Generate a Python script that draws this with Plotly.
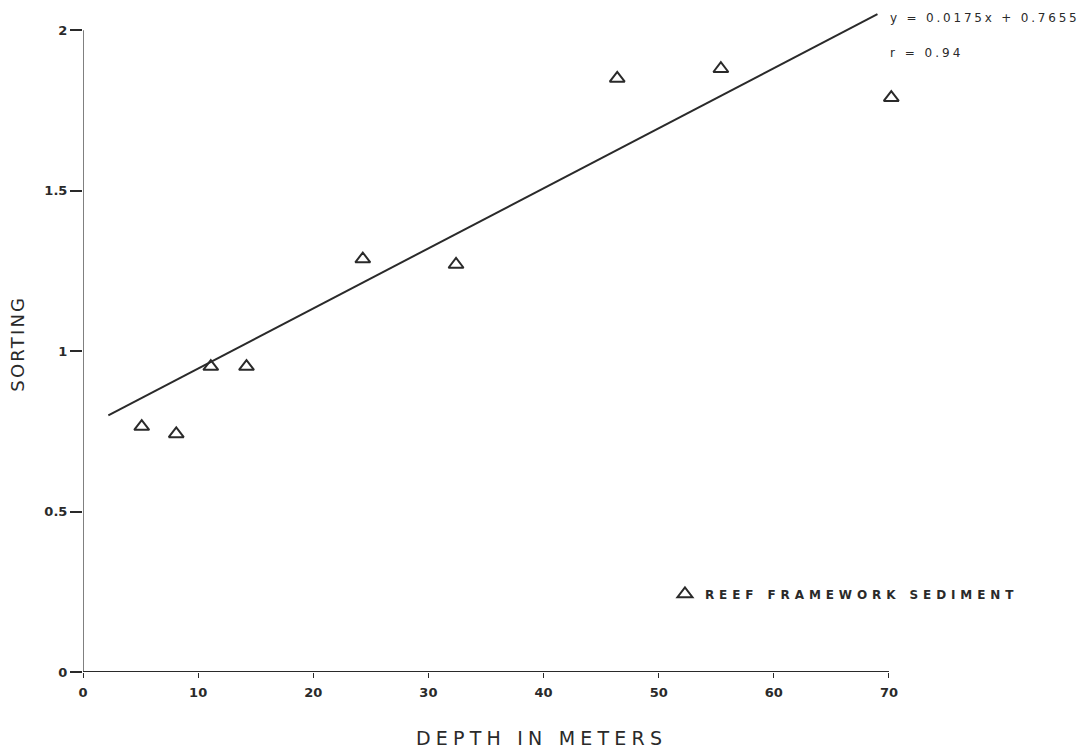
import plotly.graph_objects as go

# Data
depth = [5.1, 8.1, 11.1, 14.2, 24.3, 32.4, 46.4, 55.4, 70.2]
sorting = [0.765, 0.742, 0.952, 0.952, 1.287, 1.270, 1.850, 1.880, 1.790]

fit_x = [2.2, 69.0]
fit_y = [0.80, 2.05]

x_ticks = [0, 10, 20, 30, 40, 50, 60, 70]
y_ticks = [0, 0.5, 1, 1.5, 2]
y_tick_text = ["0", "0.5", "1", "1.5", "2"]

eq_text = "y = 0.0175x + 0.7655"
r_text = "r = 0.94"
series_name = "REEF FRAMEWORK SEDIMENT"
x_title = "DEPTH IN METERS"
y_title = "SORTING"

ink = "#2a2a2a"
font_family = "DejaVu Sans, Verdana, sans-serif"


def spaced(text, px, bold=False):
    weight = "font-weight:bold;" if bold else ""
    return f'<span style="letter-spacing:{px}px;{weight}">{text}</span>'


fig = go.Figure()
fig.add_trace(go.Scatter(
    x=fit_x, y=fit_y, mode="lines",
    line=dict(color=ink, width=2), showlegend=False, hoverinfo="skip"))
fig.add_trace(go.Scatter(
    x=depth, y=sorting, mode="markers", name=spaced(series_name, 4.9, bold=True),
    marker=dict(symbol="triangle-up-open", size=13, color=ink,
                line=dict(width=2, color=ink)),
    cliponaxis=False))

# axis lines only across the labelled span
fig.add_shape(type="line", xref="x", yref="y", x0=0, x1=0, y0=0, y1=y_ticks[-1],
              line=dict(color=ink, width=1.2, dash="solid"))
fig.add_shape(type="line", xref="x", yref="y", x0=0, x1=x_ticks[-1], y0=0, y1=0,
              line=dict(color=ink, width=2))

fig.add_annotation(x=0.971, y=0.989, xref="paper", yref="paper", text=spaced(eq_text, 2.8),
                   showarrow=False, xanchor="left", yanchor="middle",
                   font=dict(size=12, color=ink, family=font_family))
fig.add_annotation(x=0.971, y=0.936, xref="paper", yref="paper", text=spaced(r_text, 3),
                   showarrow=False, xanchor="left", yanchor="middle",
                   font=dict(size=12, color=ink, family=font_family))

# axis titles
fig.add_annotation(x=0.5535, y=-0.0999, xref="paper", yref="paper",
                   text=spaced(x_title, 5.2), showarrow=False,
                   xanchor="center", yanchor="middle",
                   font=dict(size=19, color=ink, family=font_family))
fig.add_annotation(x=-0.079, y=0.496, xref="paper", yref="paper",
                   text=spaced(y_title, 2.2), showarrow=False, textangle=-90,
                   xanchor="center", yanchor="middle",
                   font=dict(size=18, color=ink, family=font_family))

fig.update_layout(
    width=1085, height=750,
    margin=dict(l=83, r=173, t=11, b=78),
    paper_bgcolor="white", plot_bgcolor="white",
    font=dict(family=font_family, color=ink),
    showlegend=True,
    legend=dict(x=0.702, y=0.118, xanchor="left", yanchor="middle",
                bgcolor="rgba(0,0,0,0)", borderwidth=0,
                font=dict(size=12, color=ink, family=font_family)),
    xaxis=dict(range=[0, 72], tickvals=x_ticks, ticks="outside", ticklen=5,
               tickwidth=1, tickcolor=ink, showgrid=False, zeroline=False,
               showline=False, automargin=False, ticklabelstandoff=3,
               tickfont=dict(size=13, color=ink, weight="bold")),
    yaxis=dict(range=[0, 2.06], tickvals=y_ticks, ticktext=y_tick_text,
               ticks="outside", ticklen=12, tickwidth=1.5, tickcolor=ink,
               showgrid=False, zeroline=False, showline=False, automargin=False,
               tickfont=dict(size=13, color=ink, weight="bold")),
)

fig.write_html("out.html")
